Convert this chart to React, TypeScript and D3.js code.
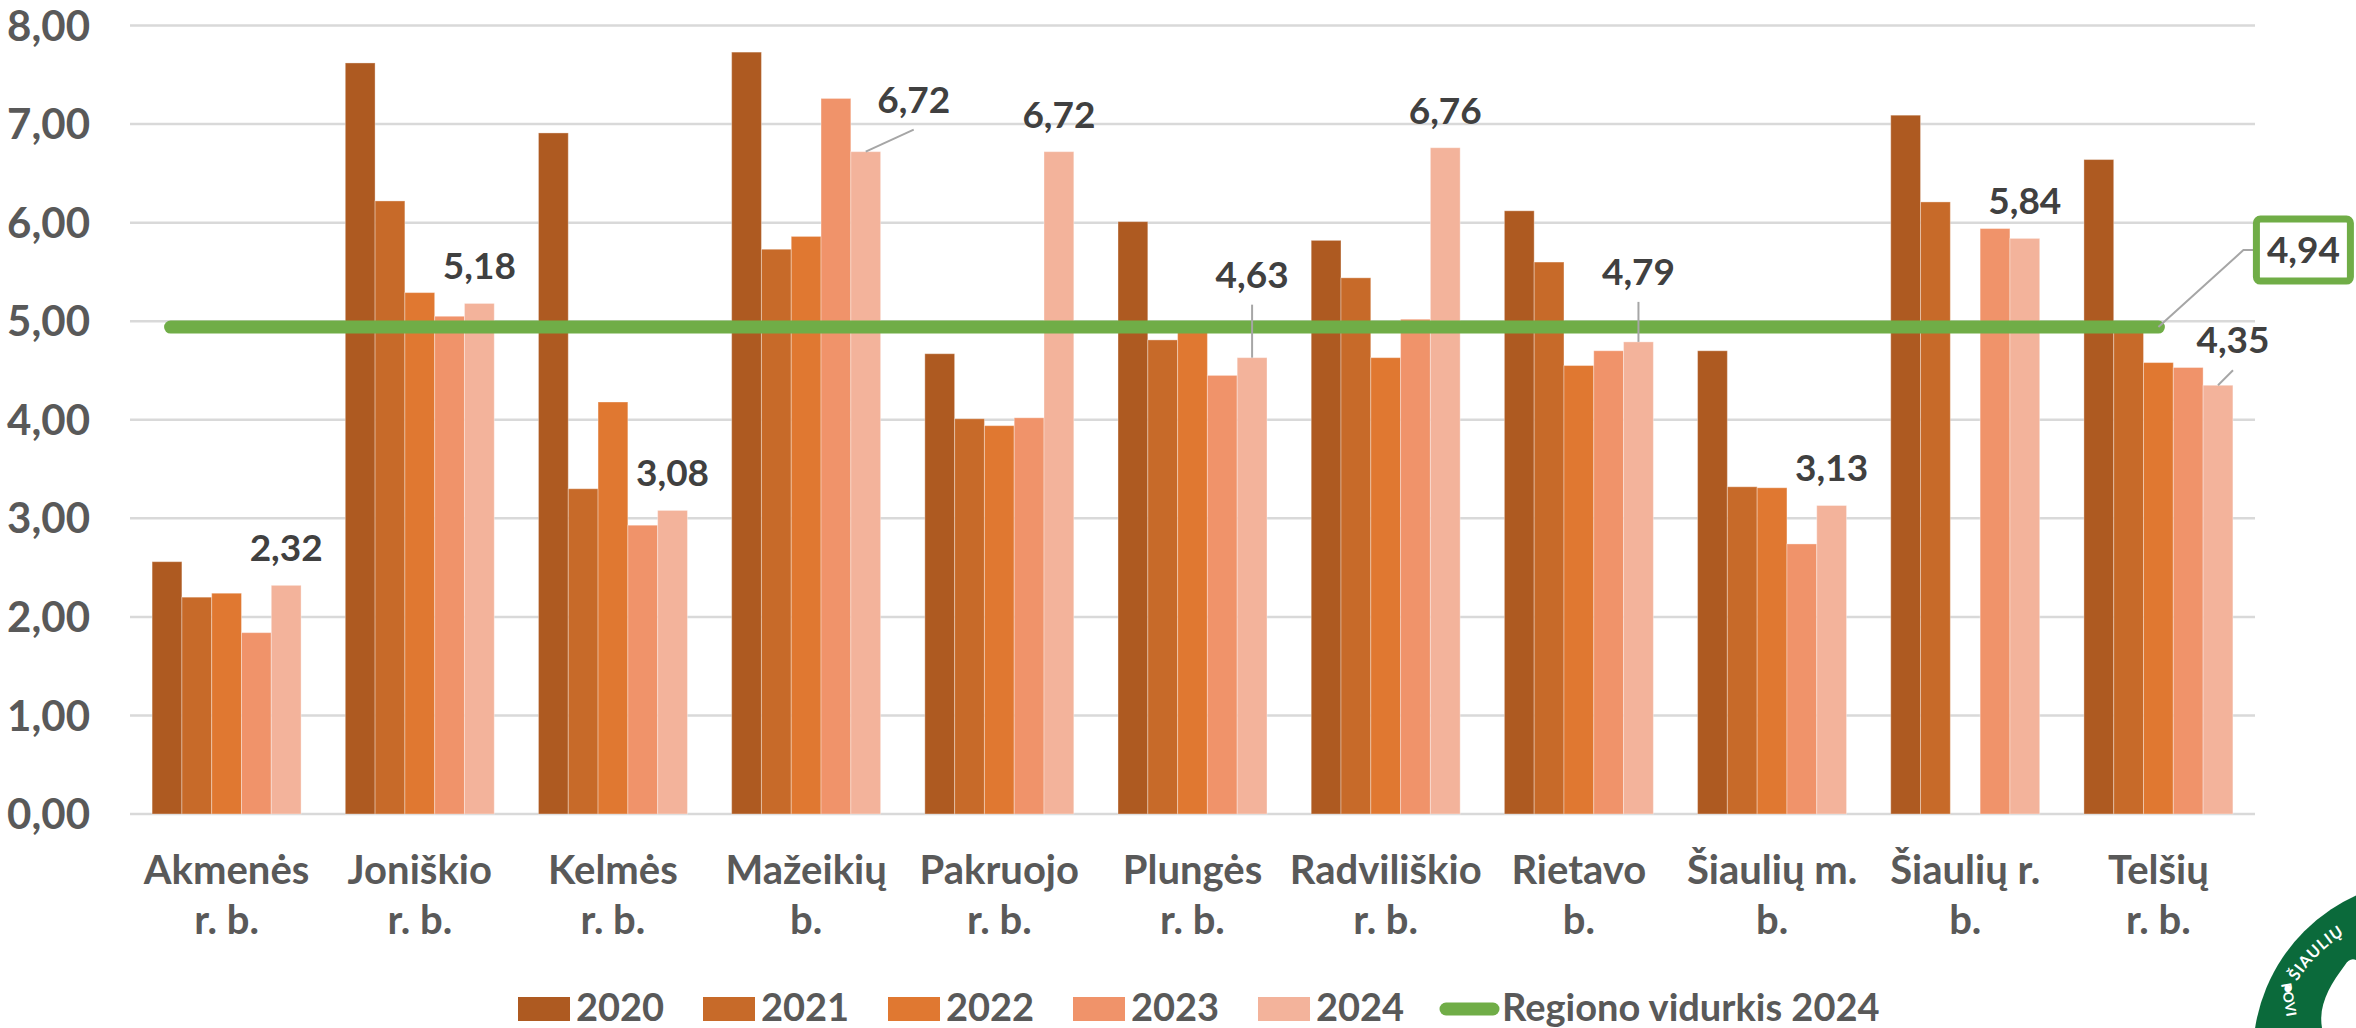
import React from 'react';
import * as d3 from 'd3';

// rajonų pavadinimai (dvi eilutės po ašimi)
const categoryTop = ['Akmenės', 'Joniškio', 'Kelmės', 'Mažeikių', 'Pakruojo', 'Plungės', 'Radviliškio', 'Rietavo', 'Šiaulių m.', 'Šiaulių r.', 'Telšių'];
const categoryBottom = ['r. b.', 'r. b.', 'r. b.', 'b.', 'r. b.', 'r. b.', 'r. b.', 'b.', 'b.', 'b.', 'r. b.'];

const years = ['2020', '2021', '2022', '2023', '2024'];

const v2020 = [2.56, 7.62, 6.91, 7.73, 4.67, 6.01, 5.82, 6.12, 4.70, 7.09, 6.64];
const v2021 = [2.20, 6.22, 3.30, 5.73, 4.01, 4.81, 5.44, 5.60, 3.32, 6.21, 4.90];
const v2022 = [2.24, 5.29, 4.18, 5.86, 3.94, 4.89, 4.63, 4.55, 3.31, null, 4.58];
const v2023 = [1.84, 5.05, 2.93, 7.26, 4.02, 4.45, 5.02, 4.70, 2.74, 5.94, 4.53];
const v2024 = [2.32, 5.18, 3.08, 6.72, 6.72, 4.63, 6.76, 4.79, 3.13, 5.84, 4.35];

const regionAvg = 4.94;
const lineLabel = 'Regiono vidurkis 2024';

const yTicks = [0, 1, 2, 3, 4, 5, 6, 7, 8];

const colors = ['#AE5A21', '#C76A29', '#E07831', '#F0936A', '#F3B39B'];
const green = '#70AD47';

// label tweaks for the 2024 series (dx, dy from bar top, leader line)
const labelTweaks = {
  'Mažeikių': { dx: 48, dy: -39, leader: true },
  'Plungės': { dx: 0, dy: -70, leader: true },
  'Rietavo': { dx: 0, dy: -57, leader: true },
  'Telšių': { dx: 15, dy: -32, leader: true },
};

const fmt = (v) => d3.format('.2f')(v).replace('.', ',');

export default function App() {
  const width = 2356;
  const height = 1028;
  const margin = { top: 25.5, left: 130, right: 101, bottom: 214 };

  const series = [v2020, v2021, v2022, v2023, v2024];

  const x0 = d3.scaleBand()
    .domain(categoryTop)
    .range([margin.left, width - margin.right])
    .padding(0);
  const step = x0.bandwidth();
  const x1 = d3.scaleBand()
    .domain(years)
    .range([step * 0.1144, step * 0.8856])
    .padding(0);
  const y = d3.scaleLinear().domain([0, 8]).range([height - margin.bottom, margin.top]);

  const font = 'Lato, "Open Sans", sans-serif';
  const axisColor = '#595959';
  const labelColor = '#404040';

  // region average line through category centres, started a bit before the first one
  const linePts = categoryTop.map((c) => [x0(c) + step / 2, y(regionAvg)]);
  linePts[0] = [linePts[0][0] - step * 0.29, linePts[0][1]];
  const linePath = d3.line()(linePts);
  const lastPt = linePts[linePts.length - 1];

  const legendItems = years.map((yr, i) => ({ yr, color: colors[i] }));

  return (
    <div style={{ position: 'absolute', left: 0, top: 0 }}>
      <svg width={width} height={height} style={{ display: 'block', background: '#fff' }}>
        {/* gridlines */}
        {yTicks.map((t) => (
          <line key={`g${t}`} x1={margin.left} x2={width - margin.right} y1={y(t)} y2={y(t)} stroke="#D9D9D9" strokeWidth={2.5} />
        ))}
        {/* y tick labels */}
        {yTicks.map((t) => (
          <text key={`t${t}`} x={90} y={y(t)} dy="0.36em" textAnchor="end" fontFamily={font} fontWeight={700} fontSize={42} fill={axisColor}>
            {fmt(t)}
          </text>
        ))}

        {/* bars */}
        {categoryTop.map((c, ci) => (
          <g key={c} transform={`translate(${x0(c)},0)`}>
            {years.map((yr, si) => {
              const v = series[si][ci];
              if (v == null) return null;
              return (
                <rect key={yr} x={x1(yr)} y={y(v)} width={x1.bandwidth()} height={y(0) - y(v)} fill={colors[si]} stroke="#ffffff" strokeOpacity={0.35} strokeWidth={1} />
              );
            })}
          </g>
        ))}

        {/* region average line */}
        <path d={linePath} fill="none" stroke={green} strokeWidth={13} strokeLinecap="round" />

        {/* 2024 data labels */}
        {categoryTop.map((c, ci) => {
          const v = v2024[ci];
          const cx = x0(c) + x1('2024') + x1.bandwidth() / 2;
          const top = y(v);
          const tw = labelTweaks[c] || { dx: 0, dy: -24, leader: false };
          let leader = null;
          if (tw.leader) {
            const lx = cx + tw.dx;
            const ly = top + tw.dy + 17;
            leader = <line x1={cx} y1={top} x2={lx} y2={ly} stroke="#A6A6A6" strokeWidth={2} />;
          }
          return (
            <g key={`l${c}`}>
              {leader}
              <text x={cx + tw.dx} y={top + tw.dy} textAnchor="middle" fontFamily={font} fontWeight={700} fontSize={37} fill={labelColor}>
                {fmt(v)}
              </text>
            </g>
          );
        })}

        {/* average label box */}
        <polyline
          points={`${lastPt[0]},${lastPt[1]} ${lastPt[0] + 85},${lastPt[1] - 77} ${lastPt[0] + 95},${lastPt[1] - 77}`}
          fill="none"
          stroke="#A6A6A6"
          strokeWidth={2}
        />
        <rect x={lastPt[0] + 98} y={lastPt[1] - 108} width={94} height={62} rx={4} fill="#fff" stroke={green} strokeWidth={7} />
        <text x={lastPt[0] + 145} y={lastPt[1] - 64} textAnchor="middle" fontFamily={font} fontWeight={700} fontSize={37} fill={labelColor}>
          {fmt(regionAvg)}
        </text>

        {/* category labels */}
        {categoryTop.map((c, ci) => (
          <text key={`c${c}`} x={x0(c) + step / 2} textAnchor="middle" fontFamily={font} fontWeight={700} fontSize={40} fill={axisColor}>
            <tspan x={x0(c) + step / 2} y={884}>{c}</tspan>
            <tspan x={x0(c) + step / 2} y={934}>{categoryBottom[ci]}</tspan>
          </text>
        ))}

        {/* legend */}
        {legendItems.map((d, i) => (
          <g key={`lg${d.yr}`} transform={`translate(${518 + i * 185},0)`}>
            <rect x={0} y={997} width={52} height={24} fill={d.color} />
            <text x={58} y={1021} fontFamily={font} fontWeight={700} fontSize={38} fill={axisColor}>{d.yr}</text>
          </g>
        ))}
        <line x1={1446} x2={1493} y1={1009} y2={1009} stroke={green} strokeWidth={13} strokeLinecap="round" />
        <text x={1502} y={1021} fontFamily={font} fontWeight={700} fontSize={38} fill={axisColor}>{lineLabel}</text>

        {/* logo fragment in the corner */}
        <g>
          <defs>
            <path id="logoArc" d="M 2290,995 A 140,140 0 0 1 2395,916" />
          </defs>
          <circle cx={2428} cy={1055} r={175} fill="#0B6A3B" />
          <text fontFamily={font} fontWeight={700} fontSize={16} fill="#fff" letterSpacing={1}>
            <textPath href="#logoArc">• ŠIAULIŲ</textPath>
          </text>
          <text transform="translate(2281,984) rotate(80)" fontFamily={font} fontWeight={700} fontSize={14} fill="#fff">POVI</text>
          <path d="M 2345,965 C 2330,985 2318,1005 2322,1028 L 2356,1028 L 2356,960 C 2352,958 2348,960 2345,965 Z" fill="#fff" />
        </g>
      </svg>
    </div>
  );
}
